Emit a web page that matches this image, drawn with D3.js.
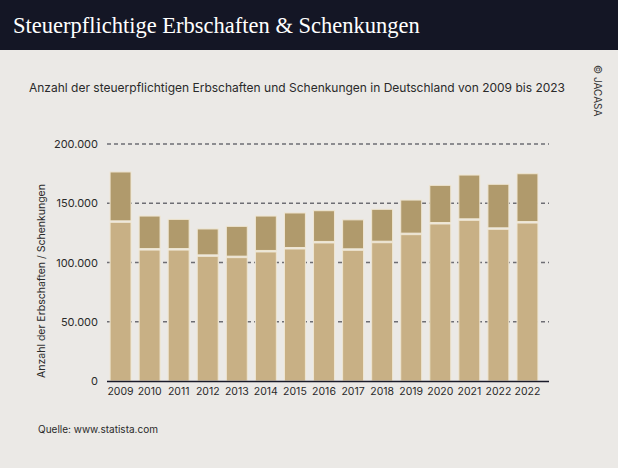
<!DOCTYPE html>
<html>
<head>
<meta charset="utf-8">
<script src="https://cdn.jsdelivr.net/npm/d3@7"></script>
<style>
  body { margin: 0; background: #ebe9e6; }
  svg { display: block; }
</style>
</head>
<body>
<svg id="chart" width="618" height="468"></svg>
<script>
// Daten
const years = ['2009','2010','2011','2012','2013','2014','2015','2016','2017','2018','2019','2020','2021','2022','2022'];
const lowerValues = [133900,110500,110500,105200,104100,108900,111400,116500,110300,116700,123500,132500,135600,128000,133300];
const upperValues = [42500,28700,25900,23100,26400,30300,30400,27200,25700,28200,29200,32600,38200,38000,41600];
const yTicks = [0,50000,100000,150000,200000];

const svg = d3.select('#chart');
const W = 618, H = 468;

// Hintergrund + Titelbalken
svg.append('rect').attr('width', W).attr('height', H).attr('fill', '#ebe9e6');
svg.append('rect').attr('width', W).attr('height', 50).attr('fill', '#141625');
svg.append('text').attr('x', 13).attr('y', 33)
  .attr('font-family', '"Liberation Serif", serif').attr('font-size', 22.5)
  .attr('fill', '#ffffff')
  .text('Steuerpflichtige Erbschaften & Schenkungen');

svg.append('text').attr('x', 29).attr('y', 92)
  .attr('font-family', 'Inter, sans-serif').attr('font-size', 12)
  .attr('fill', '#2a2a2a')
  .text('Anzahl der steuerpflichtigen Erbschaften und Schenkungen in Deutschland von 2009 bis 2023');

svg.append('text').attr('transform', 'translate(594,65) rotate(90)')
  .attr('font-family', 'Inter, sans-serif').attr('font-size', 10)
  .attr('fill', '#333')
  .text('© JACASA');

// Skalen
const x = d3.scaleBand().domain(d3.range(years.length)).range([106, 542]).paddingInner(0.28).paddingOuter(0.14);
const y = d3.scaleLinear().domain([0, 200000]).range([381, 144]);

// Gitterlinien
svg.append('g').selectAll('line').data(yTicks.filter(d => d > 0)).join('line')
  .attr('x1', 107).attr('x2', 549)
  .attr('y1', d => y(d)).attr('y2', d => y(d))
  .attr('stroke', '#6e6e74').attr('stroke-width', 1.5).attr('stroke-dasharray', '4,3');

// Y-Achse
const yAxis = d3.axisLeft(y).tickValues(yTicks).tickSize(0).tickPadding(0)
  .tickFormat(d => d3.format(',')(d).replace(/,/g, '.'));
const yAxisG = svg.append('g').attr('transform', 'translate(98,0)').call(yAxis);
yAxisG.select('.domain').remove();
yAxisG.selectAll('text').attr('font-family', 'Inter, sans-serif').attr('font-size', 11).attr('fill', '#2a2a2a');

svg.append('text')
  .attr('transform', 'translate(45,281) rotate(-90)')
  .attr('text-anchor', 'middle')
  .attr('font-family', 'Inter, sans-serif').attr('font-size', 10.5).attr('fill', '#2a2a2a')
  .text('Anzahl der Erbschaften / Schenkungen');

// Balken
const bars = svg.append('g');
const idx = d3.range(years.length);
bars.selectAll('.lower').data(idx).join('rect').attr('class', 'lower')
  .attr('x', i => x(i)).attr('width', x.bandwidth())
  .attr('y', i => y(lowerValues[i])).attr('height', i => y(0) - y(lowerValues[i]))
  .attr('fill', '#c8b085').attr('stroke', '#efe6d2').attr('stroke-width', 1);
bars.selectAll('.upper').data(idx).join('rect').attr('class', 'upper')
  .attr('x', i => x(i)).attr('width', x.bandwidth())
  .attr('y', i => y(lowerValues[i] + upperValues[i]))
  .attr('height', i => y(lowerValues[i]) - y(lowerValues[i] + upperValues[i]) - 1.5)
  .attr('fill', '#b09a6c').attr('stroke', '#efe6d2').attr('stroke-width', 1);

// X-Achse
const xAxis = d3.axisBottom(x).tickSize(0).tickPadding(7).tickFormat(i => years[i]);
const xAxisG = svg.append('g').attr('transform', 'translate(0,381)').call(xAxis);
xAxisG.select('.domain').remove();
xAxisG.selectAll('text').attr('font-family', 'Inter, sans-serif').attr('font-size', 10.5).attr('fill', '#2a2a2a');
svg.append('line').attr('x1', 107).attr('x2', 549).attr('y1', 381.5).attr('y2', 381.5)
  .attr('stroke', '#1a1b2a').attr('stroke-width', 1.5);

svg.append('text').attr('x', 38).attr('y', 433)
  .attr('font-family', 'Inter, sans-serif').attr('font-size', 10).attr('fill', '#2a2a2a')
  .text('Quelle: www.statista.com');
</script>
</body>
</html>
